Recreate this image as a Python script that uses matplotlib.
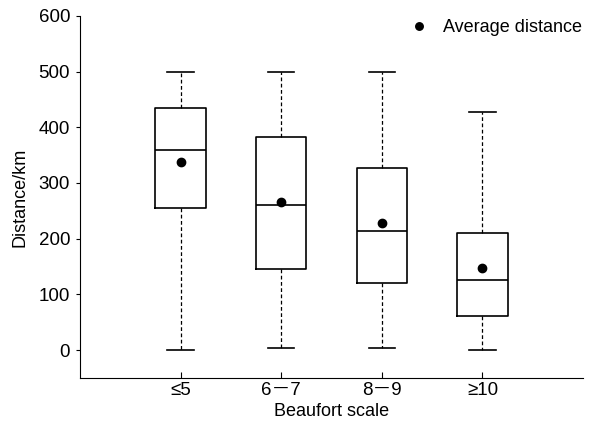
import numpy as np
import matplotlib.pyplot as plt

plt.rcParams['font.family'] = ['Liberation Sans', 'Noto Sans CJK SC', 'DejaVu Sans']

categories = ['≤5', '6－7', '8－9', '≥10']
whislo = [0, 4, 4, 0]
q1 = [255, 146, 120, 62]
med = [359, 261, 214, 125]
q3 = [435, 383, 327, 210]
whishi = [500, 500, 500, 427]
means = [338, 265, 229, 148]

stats = [dict(label=c, whislo=a, q1=b, med=m, q3=d, whishi=e, fliers=[])
         for c, a, b, m, d, e in zip(categories, whislo, q1, med, q3, whishi)]

fig = plt.figure(figsize=(5.92, 4.28), dpi=100)
ax = fig.add_axes([0.135, 0.117, 0.85, 0.846])

pos = np.arange(1, len(categories) + 1)
ax.bxp(stats, positions=pos, widths=0.5, showfliers=False,
       boxprops=dict(color='black', linewidth=1.2),
       medianprops=dict(color='black', linewidth=1.2),
       whiskerprops=dict(color='black', linewidth=0.9, linestyle=(0, (3, 2))),
       capprops=dict(color='black', linewidth=1.2),
       capwidths=0.26)
ax.plot(pos, means, 'o', color='black', markersize=6, label='Average distance', linestyle='none')

ax.set_xlim(0, 5)
ax.set_ylim(-50, 600)
ax.set_yticks([0, 100, 200, 300, 400, 500, 600])
ax.set_xticks(pos)
ax.set_xticklabels(categories)
ax.spines['top'].set_visible(False)
ax.spines['right'].set_visible(False)
ax.tick_params(axis='both', labelsize=13.5, color='black')
ax.tick_params(axis='x', direction='in', length=4, pad=3)
ax.tick_params(axis='y', direction='out', length=3, pad=4)
ax.set_xlabel('Beaufort scale', fontsize=13, labelpad=3)
ax.set_ylabel('Distance/km', fontsize=13, labelpad=7)
ax.legend(loc='upper right', frameon=False, fontsize=13, handletextpad=0.3,
          borderaxespad=0.0, bbox_to_anchor=(1.012, 1.01), markerscale=0.9)

fig.savefig('out.png', dpi=100)
